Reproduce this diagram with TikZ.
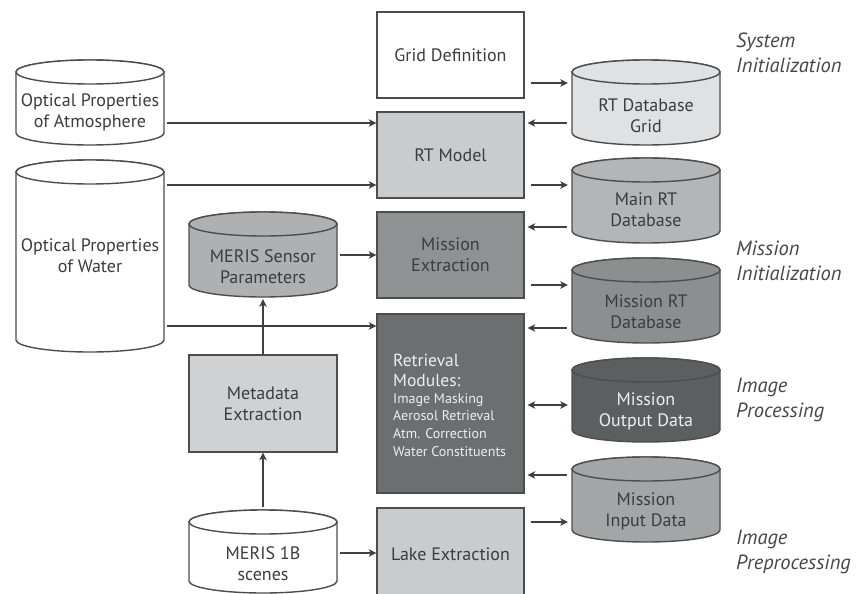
\documentclass[tikz,border=0pt]{standalone}
\usepackage{fontspec}
\setmainfont{PT Sans}
\usetikzlibrary{arrows.meta,fit}
\definecolor{edge}{HTML}{4D4D4D}
\definecolor{arrowc}{HTML}{404040}
\definecolor{txt}{HTML}{3C3C3C}
\definecolor{labc}{HTML}{474747}
\definecolor{lightw}{HTML}{EEEEEE}
\definecolor{cRTM}{HTML}{C9CBCC}
\definecolor{cMEX}{HTML}{8F9293}
\definecolor{cRET}{HTML}{6C6F70}
\definecolor{cLAKE}{HTML}{C9CBCC}
\definecolor{cMETA}{HTML}{CFD1D2}
\definecolor{cGRID}{HTML}{DFE1E2}
\definecolor{cMAIN}{HTML}{B3B5B6}
\definecolor{cMRT}{HTML}{8C8F90}
\definecolor{cOUT}{HTML}{5C5F60}
\definecolor{cINP}{HTML}{A3A6A7}
\definecolor{cSEN}{HTML}{AEB0B1}
\tikzset{
  cylline/.style={draw=edge,line width=1.4pt},
  box/.style={draw=edge,line width=1.4pt,minimum width=147pt,inner sep=0pt,
    text=txt,align=center,font=\fontsize{18}{21}\selectfont},
  cyltext/.style={align=center,font=\fontsize{18}{21}\selectfont,inner sep=0pt},
  lab/.style={anchor=west,align=left,text=labc,font=\fontsize{20.5}{25}\selectfont\itshape,inner sep=0pt},
  rbig/.style={anchor=base west,inner sep=0pt,text=lightw,font=\fontsize{17.5}{20}\selectfont},
  rsmall/.style={anchor=base west,inner sep=0pt,text=lightw,font=\fontsize{14}{17}\selectfont},
  arr/.style={draw=arrowc,line width=1.5pt,-{Stealth[length=7.5pt,width=7.5pt,inset=2pt]}},
  darr/.style={draw=arrowc,line width=1.5pt,{Stealth[length=7.5pt,width=7.5pt,inset=2pt]}-{Stealth[length=7.5pt,width=7.5pt,inset=2pt]}}
}
% #1 name, #2 x1, #3 x2, #4 top, #5 bottom, #6 fill, #7 text y, #8 text colour, #9 text
\newcommand\dbcyl[9]{%
  \pgfmathsetmacro\cylcx{(#2+#3)/2}%
  \pgfmathsetmacro\cylrx{(#3-#2)/2}%
  \pgfmathsetmacro\cylta{#4+12}%
  \pgfmathsetmacro\cylba{#5-12}%
  \draw[cylline,fill=#6] (#2,\cylta) -- (#2,\cylba)
     arc[start angle=180,end angle=0,x radius=\cylrx,y radius=12] -- (#3,\cylta)
     arc[start angle=0,end angle=-180,x radius=\cylrx,y radius=12] -- cycle;
  \draw[cylline,fill=#6] (\cylcx,\cylta) ellipse[x radius=\cylrx,y radius=12];
  \node[fit={(#2,#4) (#3,#5)},inner sep=0pt] (#1) {};
  \node[cyltext,text=#8] (#1-t) at (\cylcx,#7) {#9};
}
\begin{document}
\begin{tikzpicture}[x=1pt,y=-1pt]
\useasboundingbox (0,0) rectangle (857,594);
\fill[white] (0,0) rectangle (857,594);

% boxes
\node[box,fill=white,minimum height=86pt] (grid) at (450.5,55) {Grid Definition};
\node[box,fill=cRTM,minimum height=86pt] (rtm) at (450.5,155) {RT Model};
\node[box,fill=cMEX,minimum height=86pt] (mex) at (450.5,255) {Mission\\Extraction};
\node[box,fill=cRET,minimum height=179pt] (ret) at (450.5,403.5) {};
\node[rbig] (r1) at (393,366) {Retrieval};
\node[rbig] (r2) at (393,386) {Modules:};
\node[rsmall] (r3) at (393,403) {Image Masking};
\node[rsmall] (r4) at (393,420.5) {Aerosol Retrieval};
\node[rsmall] (r5) at (393,438) {Atm. Correction};
\node[rsmall] (r6) at (393,456) {Water Constituents};
\node[box,fill=cLAKE,minimum height=92pt] (lake) at (450.5,554) {Lake Extraction};
\node[box,fill=cMETA,minimum width=148pt,minimum height=97pt] (meta) at (263,403.5) {Metadata\\Extraction};

% cylinders left
\dbcyl{atm}{16}{164}{60}{145}{white}{112}{txt}{Optical Properties\\of Atmosphere}
\dbcyl{water}{16}{164}{160}{352}{white}{256}{txt}{Optical Properties\\of Water}
\dbcyl{sen}{189}{337}{212}{297}{cSEN}{267}{txt}{MERIS Sensor\\Parameters}
\dbcyl{scn}{189}{337}{510}{593}{white}{564}{txt}{MERIS 1B\\scenes}

% cylinders right
\dbcyl{rtg}{572}{720}{60}{145}{cGRID}{116}{txt}{RT Database\\Grid}
\dbcyl{mrt}{572}{720}{158}{243}{cMAIN}{210}{txt}{Main RT\\Database}
\dbcyl{mis}{572}{720}{258}{343}{cMRT}{312}{txt}{Mission RT\\Database}
\dbcyl{out}{572}{720}{358}{442}{cOUT}{411}{lightw}{Mission\\Output Data}
\dbcyl{inp}{572}{720}{457}{542}{cINP}{511}{txt}{Mission\\Input Data}

% labels
\node[lab] (l1) at (736,53) {System\\Initialization};
\node[lab] (l2) at (736,261) {Mission\\Initialization};
\node[lab] (l3) at (736,400) {Image\\Processing};
\node[lab] (l4) at (736,552) {Image\\Preprocessing};

% arrows left side
\draw[arr,shorten <=3pt] (atm.east |- 0,123) -- (rtm.west |- 0,123);
\draw[arr,shorten <=3pt] (water.east |- 0,185) -- (rtm.west |- 0,185);
\draw[arr,shorten <=3pt] (sen.east |- 0,255) -- (mex.west |- 0,255);
\draw[arr,shorten <=3pt] (water.east |- 0,326) -- (ret.west |- 0,326);
\draw[arr,shorten >=2pt] (meta.north) -- (sen.south);
\draw[arr,shorten <=3pt] (scn.north) -- (meta.south);
\draw[arr,shorten <=3pt] (scn.east |- 0,553) -- (lake.west |- 0,553);

% arrows right side
\draw[arr,shorten <=6pt,shorten >=4pt] (grid.east |- 0,83) -- (rtg.west |- 0,83);
\draw[arr,shorten <=5pt,shorten >=3pt] (rtg.west |- 0,123) -- (rtm.east |- 0,123);
\draw[arr,shorten <=6pt,shorten >=4pt] (rtm.east |- 0,185) -- (mrt.west |- 0,185);
\draw[arr,shorten <=5pt,shorten >=3pt] (mrt.west |- 0,227) -- (mex.east |- 0,227);
\draw[arr,shorten <=6pt,shorten >=4pt] (mex.east |- 0,285) -- (mis.west |- 0,285);
\draw[arr,shorten <=5pt,shorten >=3pt] (mis.west |- 0,328) -- (ret.east |- 0,328);
\draw[darr,shorten <=3pt,shorten >=4pt] (ret.east |- 0,405) -- (out.west |- 0,405);
\draw[arr,shorten <=5pt,shorten >=3pt] (inp.west |- 0,475) -- (ret.east |- 0,475);
\draw[arr,shorten <=6pt,shorten >=4pt] (lake.east |- 0,522) -- (inp.west |- 0,522);
\end{tikzpicture}
\end{document}
